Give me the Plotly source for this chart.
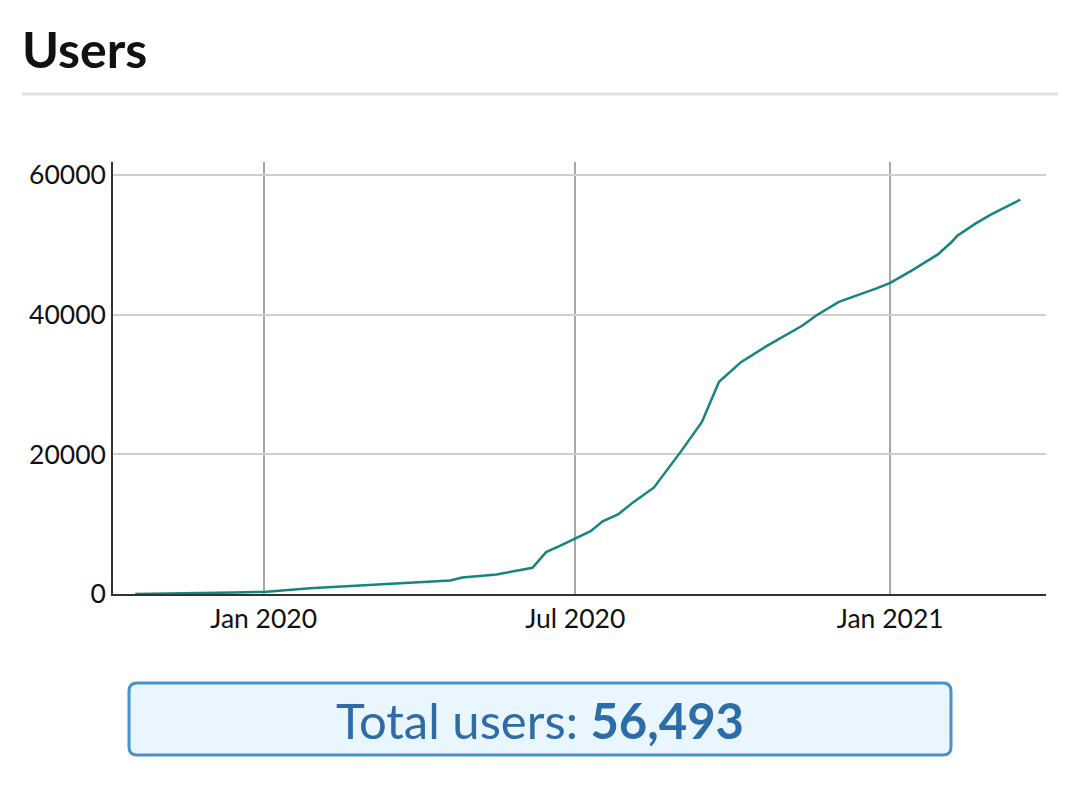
import plotly.graph_objects as go

# users over time (cumulative)
dates = ['2019-10-18', '2019-11-01', '2019-11-25', '2019-12-15', '2020-01-01',
         '2020-01-28', '2020-02-15', '2020-03-07', '2020-04-19', '2020-04-26',
         '2020-05-16', '2020-06-06', '2020-06-14', '2020-06-22', '2020-07-01',
         '2020-07-10', '2020-07-17', '2020-07-26', '2020-08-04', '2020-08-16',
         '2020-09-01', '2020-09-13', '2020-09-23', '2020-10-06', '2020-10-20',
         '2020-11-11', '2020-11-19', '2020-12-02', '2020-12-24', '2021-01-01',
         '2021-01-14', '2021-01-29', '2021-02-06', '2021-02-09', '2021-02-20',
         '2021-03-01', '2021-03-18']
users = [0, 20, 130, 220, 300,
         830, 1050, 1400, 1940, 2370,
         2800, 3760, 6000, 6880, 7920,
         9000, 10400, 11400, 13160, 15270,
         20500, 24640, 30400, 33240, 35390,
         38500, 39940, 41850, 43770, 44570,
         46390, 48680, 50450, 51270, 53090,
         54380, 56493]

y_ticks = [0, 20000, 40000, 60000]
total_users = '56,493'

# page has an 8px body margin, so positions below are screen pixels minus 8
OFF = 8
W, H = 1077, 800
L, R, T, B = 113 - OFF, 31 + OFF, 162 - OFF, 206 + OFF
pw, ph = W - L - R, H - T - B

def px(x):
    return (x - OFF - L) / pw

def py(y):
    return (H - B - (y - OFF)) / ph

fig = go.Figure()
fig.add_trace(go.Scatter(x=dates, y=users, mode='lines',
                         line=dict(color='#16857f', width=2.5),
                         showlegend=False, hoverinfo='skip'))

# rounded box for the total
x0, x1, y0, y1, r = 129, 951, 683, 755, 8
path = (f"M {px(x0 + r)} {py(y0)} L {px(x1 - r)} {py(y0)} "
        f"Q {px(x1)} {py(y0)} {px(x1)} {py(y0 + r)} "
        f"L {px(x1)} {py(y1 - r)} Q {px(x1)} {py(y1)} {px(x1 - r)} {py(y1)} "
        f"L {px(x0 + r)} {py(y1)} Q {px(x0)} {py(y1)} {px(x0)} {py(y1 - r)} "
        f"L {px(x0)} {py(y0 + r)} Q {px(x0)} {py(y0)} {px(x0 + r)} {py(y0)} Z")

fig.update_layout(
    width=W, height=H,
    margin=dict(l=L, r=R, t=T, b=B),
    paper_bgcolor='white', plot_bgcolor='white',
    font=dict(family='Lato', size=26.5, color='#111'),
    title=dict(text='<b>Users</b>', x=(22 - OFF) / W, xanchor='left',
               y=1 - (50 - OFF) / H, yanchor='middle', xref='container', yref='container',
               font=dict(family='Lato', size=50, color='#111')),
    xaxis=dict(range=['2019-10-05', '2021-04-02'], tick0='2020-01-01', dtick='M6',
               tickformat='%b %Y', showgrid=True, gridcolor='#a8a8a8', gridwidth=1.5,
               showline=True, linecolor='#333', linewidth=1.5, ticks='', zeroline=False),
    yaxis=dict(range=[0, 61880], tickvals=y_ticks, tickformat='d',
               showgrid=True, gridcolor='#cfcfcf', gridwidth=1.5,
               showline=True, linecolor='#333', linewidth=1.5, ticks='', zeroline=False),
    shapes=[
        dict(type='line', xref='paper', yref='paper', x0=px(22), x1=px(1058),
             y0=py(94), y1=py(94), line=dict(color='#e0e0e0', width=3)),
        dict(type='path', xref='paper', yref='paper', path=path,
             fillcolor='#eaf6fd', line=dict(color='#4a92cb', width=3)),
    ],
    annotations=[
        dict(text=f'Total users: <b>{total_users}</b>', xref='paper', yref='paper',
             x=px(540), y=py(720), xanchor='center', yanchor='middle', showarrow=False,
             font=dict(family='Lato', size=49, color='#2e6ca9')),
    ],
)

fig.write_html('out.html')
